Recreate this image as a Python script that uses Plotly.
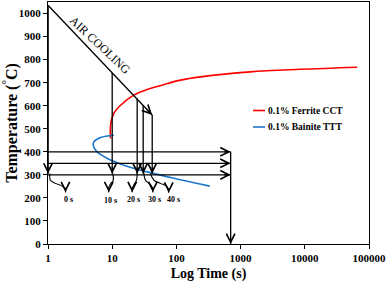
import numpy as np
import plotly.graph_objects as go

# ---------------- data ----------------
ferrite_time = [9.4, 9.5, 10.6, 13.5, 21.7, 35, 72, 116, 237, 1413, 8560, 65500]
ferrite_temp = [458, 523, 567, 602, 646, 670, 696, 711, 725, 747, 758, 767]

bainite_time = [10.6, 6.6, 5.2, 5.06, 5.8, 8.4, 15.2, 35, 91, 331]
bainite_temp = [472, 462, 444, 429, 400, 371, 342, 313, 285, 251]

cooling_time = [1, 42]
cooling_temp = [1036, 560]

drop_times = [1, 10, 24.5, 30.4, 42]
drop_tops = [1036, 742, 631, 602, 560]
drop_bottom = 305

hold_temps = [400, 350, 300]
hold_start = 1
hold_end = 700
quench_temp = 0

curve_labels = ["0 s", "10 s", "20 s", "30 s", "40 s"]
curve_times = [
    [1.07, 1.09, 1.31, 1.66, 1.87, 1.87],
    [10.2, 10.4, 9.4, 8.85, 8.85],
    [24.5, 23.9, 21.7, 20.5, 20.5],
    [31, 33, 39.5, 42.9, 42.9],
    [39.5, 44.5, 56.5, 72, 76],
]
curve_temps = [
    [306, 277, 263, 251, 237, 224],
    [306, 277, 260, 246, 224],
    [313, 277, 256, 241, 224],
    [313, 277, 258, 241, 224],
    [306, 277, 263, 248, 222],
]
label_times = [2.1, 9.4, 21.7, 45.6, 91]
label_temps = [194, 189, 191, 191, 195]

x_tickvals = [1, 10, 100, 1000, 10000, 100000]
x_ticktext = ["1", "10", "100", "1000", "10000", "100000"]
y_tickvals = [0, 100, 200, 300, 400, 500, 600, 700, 800, 900, 1000]

series_names = ["0.1% Ferrite CCT", "0.1% Bainite TTT"]
series_colors = ["#ff0000", "#1f77c9"]

FONT = "Liberation Serif"
BLACK = "#000000"

fig = go.Figure()

def line(xs, ys, color=BLACK, width=1.3, shape="linear"):
    fig.add_trace(go.Scatter(x=xs, y=ys, mode="lines", showlegend=False,
                             line=dict(color=color, width=width, shape=shape),
                             cliponaxis=False, hoverinfo="skip"))

def head(x, y, ax, ay):
    fig.add_annotation(x=np.log10(x), y=y, xref="x", yref="y", ax=ax, ay=ay,
                       axref="pixel", ayref="pixel", showarrow=True, text="",
                       arrowhead=5, arrowsize=1.4, arrowwidth=1.2,
                       arrowcolor=BLACK)

# transformation curves
fig.add_trace(go.Scatter(x=ferrite_time, y=ferrite_temp, mode="lines",
                         name=series_names[0], showlegend=False,
                         line=dict(color=series_colors[0], width=1.6,
                                   shape="spline", smoothing=1.0)))
fig.add_trace(go.Scatter(x=bainite_time, y=bainite_temp, mode="lines",
                         name=series_names[1], showlegend=False,
                         line=dict(color=series_colors[1], width=1.6,
                                   shape="spline", smoothing=1.0)))

# air cooling line
line(cooling_time, cooling_temp)
head(cooling_time[1], cooling_temp[1], -7, -7)

# vertical drops
for t, top in zip(drop_times, drop_tops):
    line([t, t], [top, drop_bottom], width=1.6 if t == 1 else 1.3)
    head(t, drop_bottom, 0, -8)

# isothermal holds
for temp in hold_temps:
    line([hold_start, hold_end], [temp, temp])
    head(hold_end, temp, -8, 0)

# final quench
line([hold_end, hold_end], [max(hold_temps), quench_temp])
head(hold_end, quench_temp, 0, -8)

# curved arrows + labels
for xs, ys, lab, lx, ly in zip(curve_times, curve_temps, curve_labels,
                               label_times, label_temps):
    line(xs, ys, width=1.1, shape="spline")
    head(xs[-1], ys[-1], 0, -6)
    fig.add_annotation(x=np.log10(lx), y=ly, xref="x", yref="y",
                       text="<b>" + lab + "</b>", showarrow=False,
                       font=dict(family=FONT, size=8, color=BLACK))

# AIR COOLING label
fig.add_annotation(x=np.log10(6.4), y=862, xref="x", yref="y",
                   text="AIR COOLING", showarrow=False, textangle=43,
                   font=dict(family=FONT, size=12, color=BLACK))

# manual legend
for i, (nm, col) in enumerate(zip(series_names, series_colors)):
    yy = 1 - (110.5 + 16.5 * i - 2) / 242
    fig.add_shape(type="line", xref="paper", yref="paper",
                  x0=(253 - 48) / 321, x1=(265 - 48) / 321, y0=yy, y1=yy,
                  line=dict(color=col, width=1.6))
    fig.add_annotation(xref="paper", yref="paper", x=(265.5 - 48) / 321, y=yy,
                       xanchor="left", yanchor="middle", text="<b>" + nm + "</b>",
                       showarrow=False,
                       font=dict(family=FONT, size=9.5, color=BLACK))

axis_common = dict(showline=True, mirror=True, linecolor=BLACK, linewidth=1.3,
                   ticks="outside", ticklen=4, tickcolor=BLACK, tickwidth=1,
                   showgrid=False, zeroline=False, automargin=False,
                   tickfont=dict(family=FONT, size=11, color=BLACK, weight="bold"))

fig.update_layout(
    width=387, height=282,
    margin=dict(l=48, r=18, t=2, b=38, autoexpand=False),
    paper_bgcolor="white", plot_bgcolor="white",
    showlegend=False,
    xaxis=dict(type="log", range=[0, 5], tickvals=x_tickvals,
               ticktext=x_ticktext,
               title=dict(text="Log Time (s)", standoff=4,
                          font=dict(family=FONT, size=14, color=BLACK, weight="bold")),
               **axis_common),
    yaxis=dict(range=[0, 1050], tickvals=y_tickvals,
               title=dict(text="Temperature (<sup>°</sup>C)", standoff=5,
                          font=dict(family=FONT, size=16, color=BLACK, weight="bold")),
               **axis_common),
)

fig.write_html("out.html", config={"displayModeBar": False},
               post_script="document.body.style.margin='0';document.body.style.overflow='hidden';")
